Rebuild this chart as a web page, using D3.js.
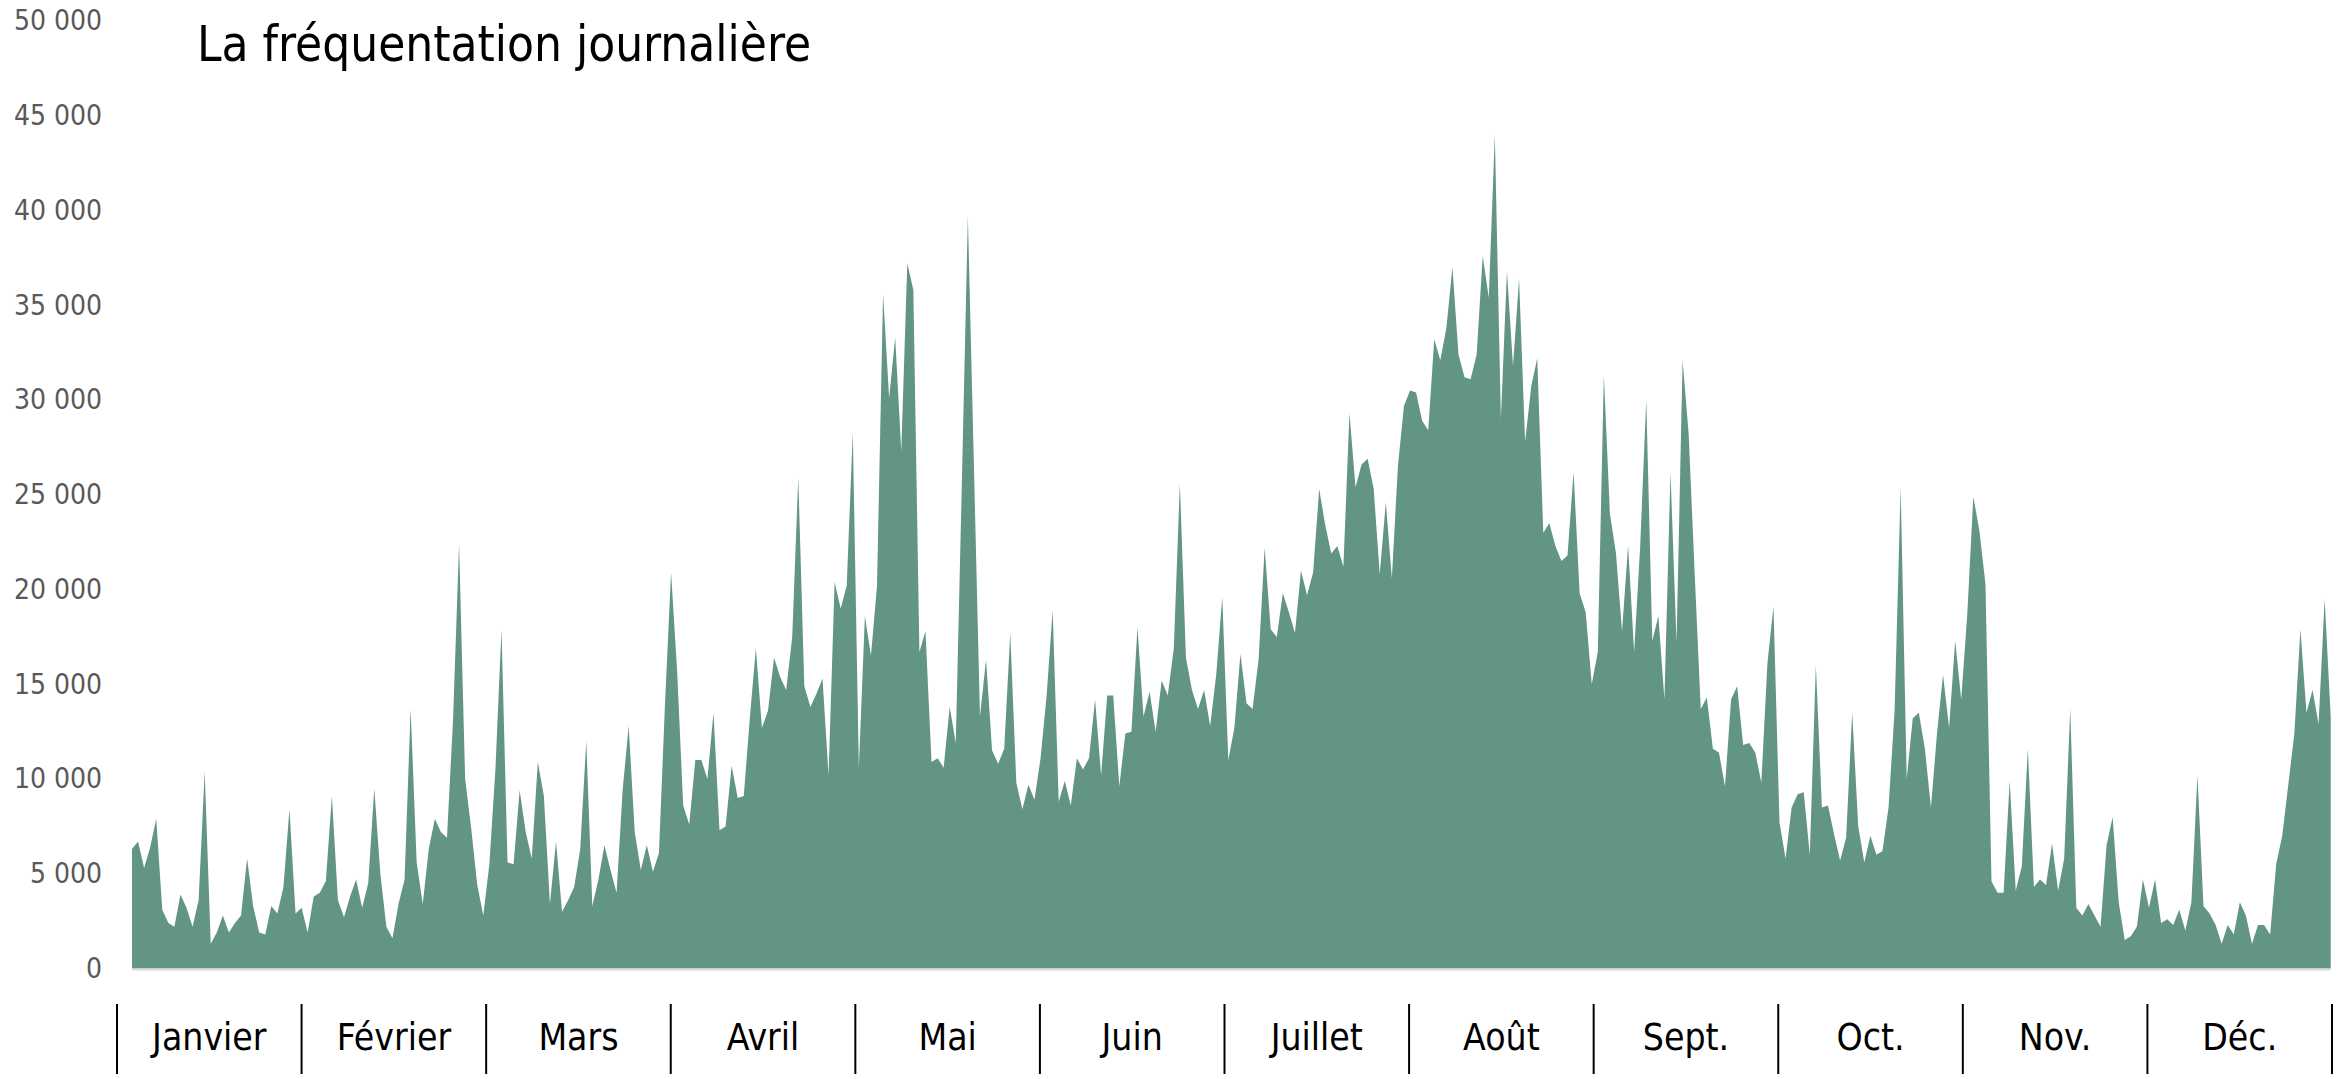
<!DOCTYPE html>
<html>
<head>
<meta charset="utf-8">
<script src="https://cdn.jsdelivr.net/npm/d3@7"></script>
<style>
  body { margin: 0; background: #fff; }
  svg text { font-family: "DejaVu Sans Condensed", "DejaVu Sans", sans-serif; font-stretch: condensed; }
</style>
</head>
<body>
<script>
var months = ["Janvier", "Février", "Mars", "Avril", "Mai", "Juin", "Juillet", "Août", "Sept.", "Oct.", "Nov.", "Déc."];

var yTicks = [0, 5000, 10000, 15000, 20000, 25000, 30000, 35000, 40000, 45000, 50000];

// visiteurs par jour
var janFev = [6300, 6700, 5300, 6400, 7900, 3100, 2400, 2200, 3900, 3200, 2200, 3600, 10400, 1300, 1900, 2800, 1900, 2400, 2800, 5800,
  3300, 1900, 1800, 3300, 2900, 4300, 8400, 2900, 3200, 1900, 3800, 4000, 4600, 9100, 3600, 2700, 3800, 4700,
  3200, 4500, 9500, 5000, 2200, 1600, 3400, 4700, 13700, 5600, 3400, 6300, 7900, 7200, 6900, 13100, 22400, 10000, 7400, 4400, 2800];
var marsAvr = [5500, 10500, 17900, 5600, 5500, 9400, 7200, 5800, 10900, 9100, 3400, 6700, 3000, 3600, 4300, 6300, 12000,
  3300, 4700, 6500, 5200, 4000, 9400, 12800, 7200, 5200, 6500, 5100, 6100, 14000, 20900, 15700, 8600, 7600, 11000, 11000, 10000,
  13500, 7300, 7500, 10700, 9000, 9100, 13200, 16900, 12700, 13600, 16400, 15400, 14700, 17500, 25900, 14900, 13800, 14500,
  15300, 10200, 20400, 19000, 20200, 28300];
var maiJuin = [10600, 18600, 16500, 20200, 35600, 30100, 33300, 27300, 37200, 35800, 16700, 17800, 10900, 11100, 10600, 13800,
  11900, 25500, 39700, 26500, 13300, 16300, 11500, 10800, 11600, 17700, 9800, 8400, 9700, 8900, 11100, 14400, 18900, 8800, 9900, 8600,
  11100, 10500, 11100, 14200, 10200, 14400, 14400, 9600, 12400, 12500, 18000, 13300, 14600, 12500, 15200, 14400, 16900, 25600,
  16400, 14700, 13700, 14700, 12800, 15500, 19600];
var juilAout = [11000, 12700, 16600, 14000, 13700, 16300, 22200, 17900, 17500, 19800, 18800, 17700, 21000, 19700, 20900, 25300,
  23400, 21900, 22300, 21200, 29300, 25400, 26600, 26900, 25300, 20800, 24600, 20600, 26500, 29700, 30500, 30400, 28900, 28400,
  33200, 32100, 33800, 37000, 32400, 31200, 31100, 32400, 37600, 35400, 44000, 29000, 36800, 31800, 36400, 27800, 30700, 32200,
  23000, 23500, 22300, 21500, 21800, 26200, 19800, 18800, 15000, 16700];
var septOct = [31300, 24000, 21900, 17800, 22300, 16700, 22300, 30000, 17300, 18600, 14200, 26200, 17200, 32100, 28200, 20800,
  13700, 14300, 11600, 11400, 9600, 14200, 14900, 11800, 11900, 11400, 9800, 16100, 19100, 7700, 5800, 8500, 9200, 9300, 6000, 16000,
  8500, 8600, 7100, 5700, 6900, 13500, 7500, 5600, 7000, 6000, 6200, 8500, 13600, 25400, 10000, 13200, 13500, 11600, 8500, 12400,
  15500, 12700, 17300, 14200, 18700];
var novDec = [24900, 23100, 20300, 4600, 4000, 4000, 9900, 4100, 5400, 11600, 4300, 4700, 4400, 6600, 4100, 5800, 13700,
  3200, 2800, 3400, 2800, 2200, 6500, 8000, 3500, 1500, 1700, 2200, 4700, 3200, 4700, 2400, 2600, 2300, 3100, 2000, 3500, 10200,
  3300, 2900, 2300, 1300, 2300, 1800, 3500, 2800, 1300, 2300, 2300, 1800, 5500, 7000, 9700, 12400, 17900, 13500, 14700, 12900,
  19500, 13300];

var frequentation = janFev.concat(marsAvr, maiJuin, juilAout, septOct, novDec);

var W = 2346, H = 1079;

var svg = d3.select("body").append("svg")
    .attr("width", W)
    .attr("height", H);

var x = d3.scaleLinear().domain([0, frequentation.length - 1]).range([132, 2330.7]),
    y = d3.scaleLinear().domain([0, 50000]).range([968.5, 21]);

var fr = d3.formatLocale({decimal: ",", thousands: "\u00a0", grouping: [3], currency: ["", " €"]});

var area = d3.area()
    .x(function(d, i) { return x(i); })
    .y0(y(0))
    .y1(function(d) { return y(d); });

svg.append("path")
    .datum(frequentation)
    .attr("fill", "#629584")
    .attr("d", area);

// ligne de base
svg.append("line")
    .attr("x1", x(0)).attr("x2", x(frequentation.length - 1))
    .attr("y1", y(0) + 1).attr("y2", y(0) + 1)
    .attr("stroke", "#d9d9d9")
    .attr("stroke-width", 2);

var yAxis = svg.append("g")
    .attr("transform", "translate(132,0)")
    .call(d3.axisLeft(y).tickValues(yTicks).tickSize(0).tickPadding(30).tickFormat(fr.format(",d")));
yAxis.select(".domain").remove();
yAxis.selectAll("text")
    .attr("fill", "#595959")
    .style("font-size", "28px");

// mois
var band = d3.scaleBand().domain(months).range([117, 2332]);

svg.append("g").selectAll("line")
  .data(months.concat(["fin"]))
  .join("line")
    .attr("x1", function(d, i) { return i < months.length ? band(d) : band.range()[1]; })
    .attr("x2", function(d, i) { return i < months.length ? band(d) : band.range()[1]; })
    .attr("y1", 1004)
    .attr("y2", 1074)
    .attr("stroke", "#000")
    .attr("stroke-width", 2);

svg.append("g").selectAll("text")
  .data(months)
  .join("text")
    .attr("x", function(d) { return band(d) + band.bandwidth() / 2; })
    .attr("y", 1050)
    .attr("text-anchor", "middle")
    .style("font-size", "37px")
    .text(function(d) { return d; });

svg.append("text")
    .attr("x", 197)
    .attr("y", 61)
    .style("font-size", "49px")
    .text("La fréquentation journalière");
</script>
</body>
</html>
